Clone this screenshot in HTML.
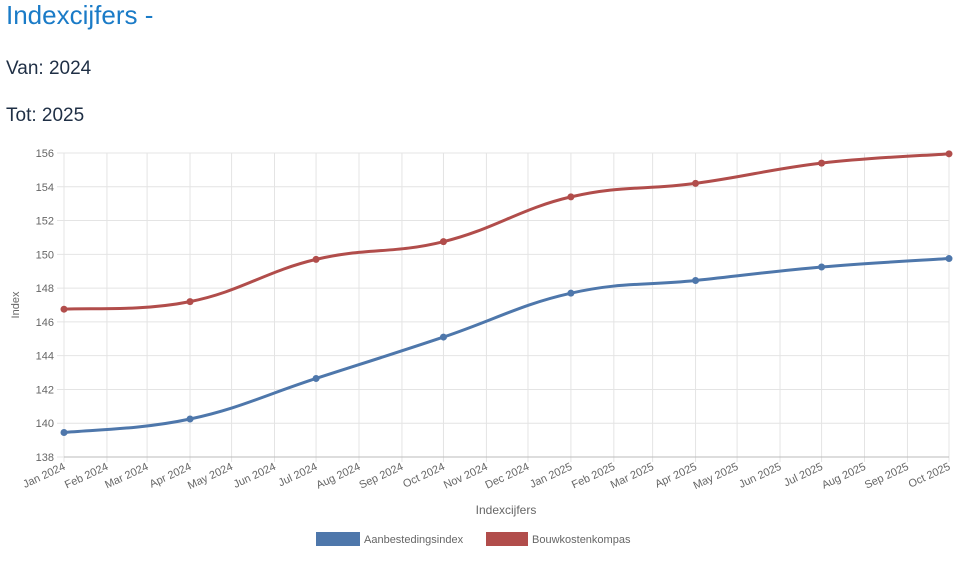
<!DOCTYPE html>
<html><head><meta charset="utf-8"><style>
body{margin:0;width:975px;height:561px;background:#fff;font-family:"Liberation Sans",sans-serif;overflow:hidden;position:relative}
.t{position:absolute;left:6px}
</style></head><body>
<div class="t" style="top:0px;font-size:26px;color:#1a7bc7">Indexcijfers -</div>
<div class="t" style="top:58px;font-size:19px;color:#1f2f45">Van: 2024</div>
<div class="t" style="top:105px;font-size:19px;color:#1f2f45">Tot: 2025</div>
<svg id="s" width="975" height="561" style="position:absolute;left:0;top:0" font-family="Liberation Sans, sans-serif"></svg>
<script>
var s=document.getElementById('s'),h='';
var x0=64,x1=949,y0=457,ky=16.89;
function Y(v){return y0-(v-138)*ky;}
var md=[0,31,60,91,121,152,182,213,244,274,305,335,366,397,425,456,486,517,547,578,609,639];
var names=['Jan','Feb','Mar','Apr','May','Jun','Jul','Aug','Sep','Oct','Nov','Dec'];
function X(d){return x0+d*(x1-x0)/639;}
for(var v=138;v<=156;v+=2){var y=Y(v);h+='<line x1="57" x2="'+x1+'" y1="'+y+'" y2="'+y+'" stroke="#e4e4e4"/>';
h+='<text x="54" y="'+(y+4)+'" font-size="11" fill="#666" text-anchor="end">'+v+'</text>';}
for(var i=0;i<md.length;i++){var x=X(md[i]);h+='<line x1="'+x+'" x2="'+x+'" y1="153" y2="'+(y0+5)+'" stroke="#e4e4e4"/>';
var lab=names[i%12]+' '+(i<12?2024:2025);
h+='<text transform="translate('+(x+2)+','+(y0+12)+') rotate(-25)" font-size="11" fill="#666" text-anchor="end">'+lab+'</text>';}
h+='<line x1="'+x0+'" x2="'+x1+'" y1="'+y0+'" y2="'+y0+'" stroke="#bbb"/>';
var q=[0,91,182,274,366,456,547,639];
var B=[139.45,140.25,142.65,145.1,147.7,148.45,149.25,149.75];
var R=[146.75,147.2,149.7,150.75,153.4,154.2,155.4,155.95];
function path(a,c){var p=a.map(function(v,i){return [X(q[i]),Y(v)];});
var d='M'+p[0][0]+','+p[0][1];
for(var i=0;i<p.length-1;i++){var pm=p[i-1]||p[i],pn=p[i+2]||p[i+1],t=0.4;
var c1=[p[i][0]+(p[i+1][0]-pm[0])*t/2,p[i][1]+(p[i+1][1]-pm[1])*t/2];
var c2=[p[i+1][0]-(pn[0]-p[i][0])*t/2,p[i+1][1]-(pn[1]-p[i][1])*t/2];
d+=' C'+c1+' '+c2+' '+p[i+1];}
var r='<path d="'+d+'" fill="none" stroke="'+c+'" stroke-width="3"/>';
p.forEach(function(pt){r+='<circle cx="'+pt[0]+'" cy="'+pt[1]+'" r="3.5" fill="'+c+'"/>';});return r;}
h+=path(B,'#4e77ab')+path(R,'#b14d4b');
h+='<text x="506" y="514" font-size="12" fill="#666" text-anchor="middle">Indexcijfers</text>';
h+='<text transform="translate(19,305) rotate(-90)" font-size="11" fill="#666" text-anchor="middle">Index</text>';
h+='<rect x="316" y="532" width="44" height="14" fill="#4e77ab"/><text x="364" y="543" font-size="11" fill="#666">Aanbestedingsindex</text>';
h+='<rect x="486" y="532" width="42" height="14" fill="#b14d4b"/><text x="532" y="543" font-size="11" fill="#666">Bouwkostenkompas</text>';
s.innerHTML=h;
</script>
</body></html>
